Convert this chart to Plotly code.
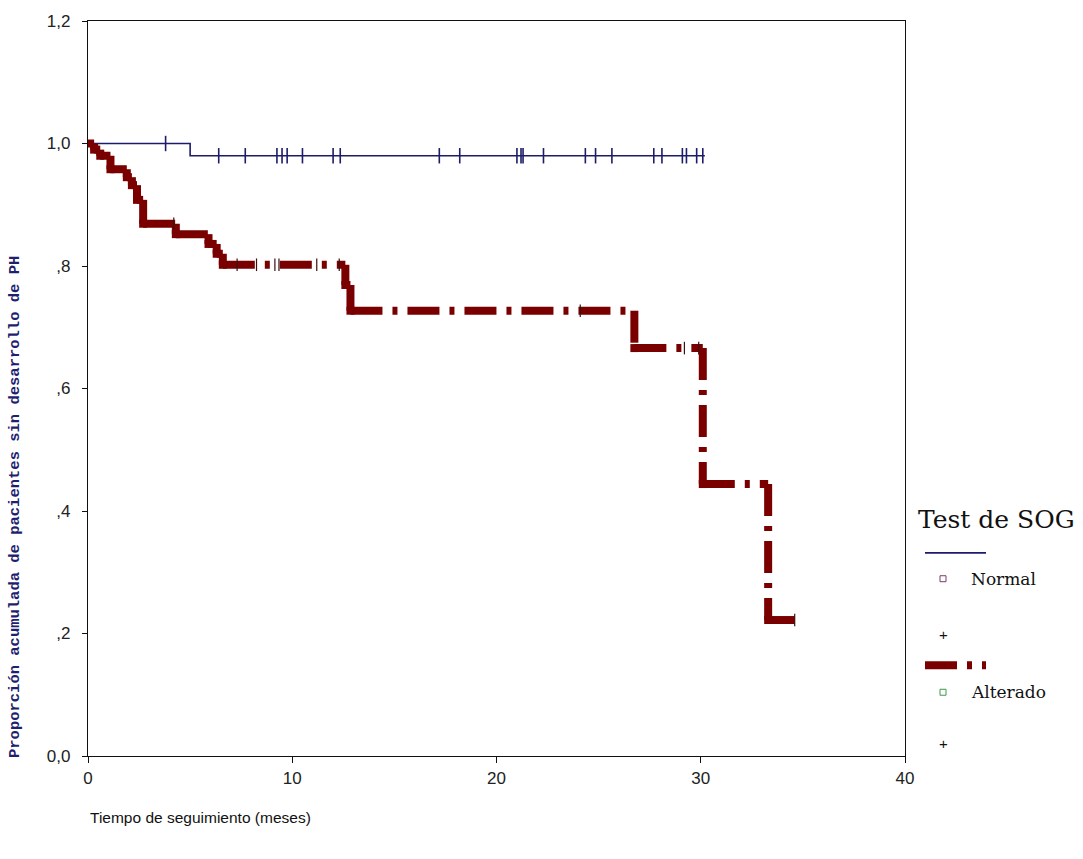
import plotly.graph_objects as go

# Kaplan-Meier estimates: time of each step (months) and survival after it
normal_times = [0.0, 5.0]
normal_surv = [1.0, 0.98]
normal_end = 30.2
normal_censored = [3.8, 6.4, 7.7, 9.25, 9.5, 9.75, 10.5, 12.0, 12.35, 17.2, 18.2,
                   21.0, 21.2, 21.3, 22.3, 24.35, 24.85, 25.65, 27.7, 28.1, 29.1,
                   29.3, 29.8, 30.1]

altered_times = [0.0, 0.3, 0.6, 1.1, 1.9, 2.15, 2.4, 2.7, 4.3, 5.9, 6.3, 6.6,
                 12.6, 12.85, 26.75, 30.1, 33.3]
altered_surv = [1.0, 0.99, 0.98, 0.958, 0.945, 0.932, 0.908, 0.869, 0.852,
                0.836, 0.82, 0.802, 0.769, 0.727, 0.666, 0.444, 0.222]
altered_end = 34.6
altered_censored = [4.2, 7.3, 8.25, 9.15, 9.35, 11.2, 12.3, 24.1, 29.2, 29.9, 34.6]

y_ticks = [0.0, 0.2, 0.4, 0.6, 0.8, 1.0, 1.2]
y_tick_text = ["0,0", ",2", ",4", ",6", ",8", "1,0", "1,2"]
x_ticks = [0, 10, 20, 30, 40]

BLUE = "#1c1c6b"
RED = "#7a0000"
RED_DASH = "32px,10px,5px,10px"


def surv_at(t, times, surv):
    value = surv[0]
    for ti, si in zip(times, surv):
        if ti <= t:
            value = si
    return value


fig = go.Figure()

# Normal group: one solid step line
nx, ny = [], []
for i, (ti, si) in enumerate(zip(normal_times, normal_surv)):
    if i > 0:
        nx.append(ti)
        ny.append(normal_surv[i - 1])
    nx.append(ti)
    ny.append(si)
nx.append(normal_end)
ny.append(normal_surv[-1])
fig.add_trace(go.Scatter(x=nx, y=ny, mode="lines",
                         line=dict(color=BLUE, width=1.6), showlegend=False,
                         hoverinfo="skip"))
fig.add_trace(go.Scatter(
    x=normal_censored,
    y=[surv_at(t, normal_times, normal_surv) for t in normal_censored],
    mode="markers", showlegend=False, hoverinfo="skip",
    marker=dict(symbol="line-ns-open", size=11, color=BLUE,
                line=dict(color=BLUE, width=1.6))))

# Altered group: every straight piece (drop or flat run) restarts the dash pattern
segments = []
for i in range(len(altered_times)):
    t0 = altered_times[i]
    t1 = altered_times[i + 1] if i + 1 < len(altered_times) else altered_end
    if i > 0:
        segments.append(([t0, t0], [altered_surv[i - 1], altered_surv[i]]))
    segments.append(([t0, t1], [altered_surv[i], altered_surv[i]]))
for xs, ys in segments:
    fig.add_trace(go.Scatter(x=xs, y=ys, mode="lines",
                             line=dict(color=RED, width=8, dash=RED_DASH),
                             showlegend=False, hoverinfo="skip"))
# square joints at the corners of the thick step line
fig.add_trace(go.Scatter(
    x=altered_times[1:], y=altered_surv[1:], mode="markers",
    showlegend=False, hoverinfo="skip",
    marker=dict(symbol="square", size=8, color=RED, line=dict(width=0))))
fig.add_trace(go.Scatter(
    x=altered_censored,
    y=[surv_at(t, altered_times, altered_surv) for t in altered_censored],
    mode="markers", showlegend=False, hoverinfo="skip",
    marker=dict(symbol="line-ns-open", size=9, color="#3a1010",
                line=dict(color="#3a1010", width=1.2))))

W, H = 1083, 859
L, R, T, B = 88, 905, 18, 756


def px(x):
    return (x - L) / (R - L)


def py(y):
    return (B - y) / (B - T)


# Legend block on the right
shapes = [
    dict(type="line", xref="paper", yref="paper", x0=px(925), x1=px(986),
         y0=py(552), y1=py(552), line=dict(color=BLUE, width=1.6)),
    dict(type="line", xref="paper", yref="paper", x0=px(925), x1=px(986),
         y0=py(665), y1=py(665), line=dict(color=RED, width=8, dash=RED_DASH)),
    dict(type="rect", xref="paper", yref="paper", x0=px(940), x1=px(946),
         y0=py(575), y1=py(581), line=dict(color="#7a3a6a", width=1)),
    dict(type="rect", xref="paper", yref="paper", x0=px(940), x1=px(946),
         y0=py(689), y1=py(695), line=dict(color="#3c9a4a", width=1)),
]

serif = "DejaVu Serif"
annotations = [
    dict(text="Test de SOG", xref="paper", yref="paper", x=px(916), y=py(519),
         xanchor="left", yanchor="middle", showarrow=False,
         font=dict(family=serif, size=25, color="#111")),
    dict(text="Normal", xref="paper", yref="paper", x=px(969), y=py(578),
         xanchor="left", yanchor="middle", showarrow=False,
         font=dict(family=serif, size=17, color="#111")),
    dict(text="Alterado", xref="paper", yref="paper", x=px(969), y=py(692),
         xanchor="left", yanchor="middle", showarrow=False,
         font=dict(family=serif, size=17, color="#111")),
    dict(text="+", xref="paper", yref="paper", x=px(943), y=py(634),
         xanchor="center", yanchor="middle", showarrow=False,
         font=dict(family="Liberation Sans", size=15, color="#111")),
    dict(text="+", xref="paper", yref="paper", x=px(943), y=py(743),
         xanchor="center", yanchor="middle", showarrow=False,
         font=dict(family="Liberation Sans", size=15, color="#111")),
    # axis titles
    dict(text="<b>Proporción acumulada de pacientes sin desarrollo de PH</b>",
         xref="paper", yref="paper", x=px(15), y=py(506), textangle=-90,
         xanchor="center", yanchor="middle", showarrow=False,
         font=dict(family="Liberation Mono", size=15.5, color="#1f1f70")),
    dict(text="Tiempo de seguimiento (meses)", xref="paper", yref="paper",
         x=px(88), y=py(818), xanchor="left", yanchor="middle", showarrow=False,
         font=dict(family="Liberation Sans", size=15.5, color="#111")),
]

axis_font = dict(family="Liberation Sans", size=17, color="#222")
fig.update_layout(
    width=W, height=H,
    margin=dict(l=L, r=W - R, t=T, b=H - B, pad=0),
    paper_bgcolor="white", plot_bgcolor="white",
    showlegend=False,
    shapes=shapes, annotations=annotations,
    xaxis=dict(range=[0, 40], tickvals=x_ticks, ticktext=[str(v) for v in x_ticks],
               showgrid=False, zeroline=False, showline=True, linecolor="#111",
               linewidth=1.2, mirror=True, ticks="outside", ticklen=6,
               tickcolor="#111", tickfont=axis_font),
    yaxis=dict(range=[0, 1.2], tickvals=y_ticks, ticktext=y_tick_text,
               showgrid=False, zeroline=False, showline=True, linecolor="#111",
               linewidth=1.2, mirror=True, ticks="outside", ticklen=5,
               ticklabelstandoff=8,
               tickcolor="#111", tickfont=axis_font),
)

fig.write_html("out.html")
